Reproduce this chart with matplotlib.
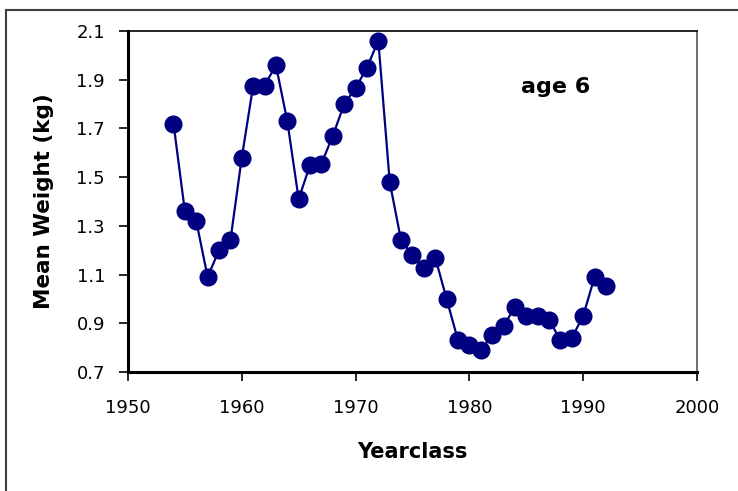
import numpy as np
import matplotlib.pyplot as plt
from matplotlib.patches import Rectangle

plt.rcParams['font.family'] = ['DejaVu Sans']

years = list(range(1954, 1993))
weights = [1.72, 1.36, 1.32, 1.09, 1.20, 1.24, 1.58, 1.875, 1.875, 1.96,
           1.73, 1.41, 1.55, 1.555, 1.67, 1.80, 1.865, 1.95, 2.06, 1.48,
           1.24, 1.18, 1.125, 1.17, 1.00, 0.83, 0.81, 0.79, 0.85, 0.89,
           0.965, 0.93, 0.93, 0.915, 0.83, 0.84, 0.93, 1.09, 1.055]

x_ticks = [1950, 1960, 1970, 1980, 1990, 2000]
y_ticks = [0.7, 0.9, 1.1, 1.3, 1.5, 1.7, 1.9, 2.1]

fig = plt.figure(figsize=(7.38, 4.91), dpi=100)
ax = fig.add_axes([0.1734, 0.2424, 0.771, 0.6945])

ax.plot(years, weights, '-o', color='#000080', lw=1.6,
        markersize=12, markeredgecolor='#000080', clip_on=False)

ax.set_xlim(1950, 2000)
ax.set_ylim(0.7, 2.1)
ax.set_xticks(x_ticks)
ax.set_yticks(y_ticks)
ax.set_yticklabels([f"{v:.1f}" for v in y_ticks])
ax.tick_params(direction='out', length=6.5, width=1.2, labelsize=13)
ax.tick_params(axis='x', pad=13)
ax.tick_params(axis='y', pad=10)

for s in ax.spines.values():
    s.set_linewidth(1.2)
ax.spines['left'].set_linewidth(2.2)
ax.spines['bottom'].set_linewidth(2.2)
ax.spines['right'].set_color('#555555')

ax.set_xlabel("Yearclass", fontsize=15, fontweight='bold')
ax.set_ylabel("Mean Weight (kg)", fontsize=15.5, fontweight='bold')
ax.xaxis.set_label_coords(0.5, -80 / 341)
ax.xaxis.label.set_va('center')
ax.yaxis.set_label_coords(-84 / 569, 0.5)
ax.yaxis.label.set_va('center')
ax.text(1987.6, 1.87, "age 6", fontsize=16, fontweight='bold',
        ha='center', va='center')

# outer chart frame
fig.add_artist(Rectangle((6 / 738, -0.1), 1.2, 1.1 - 10 / 491,
                         transform=fig.transFigure, fill=False,
                         edgecolor='#404040', lw=1.5))

fig.savefig("out.png", dpi=100)
